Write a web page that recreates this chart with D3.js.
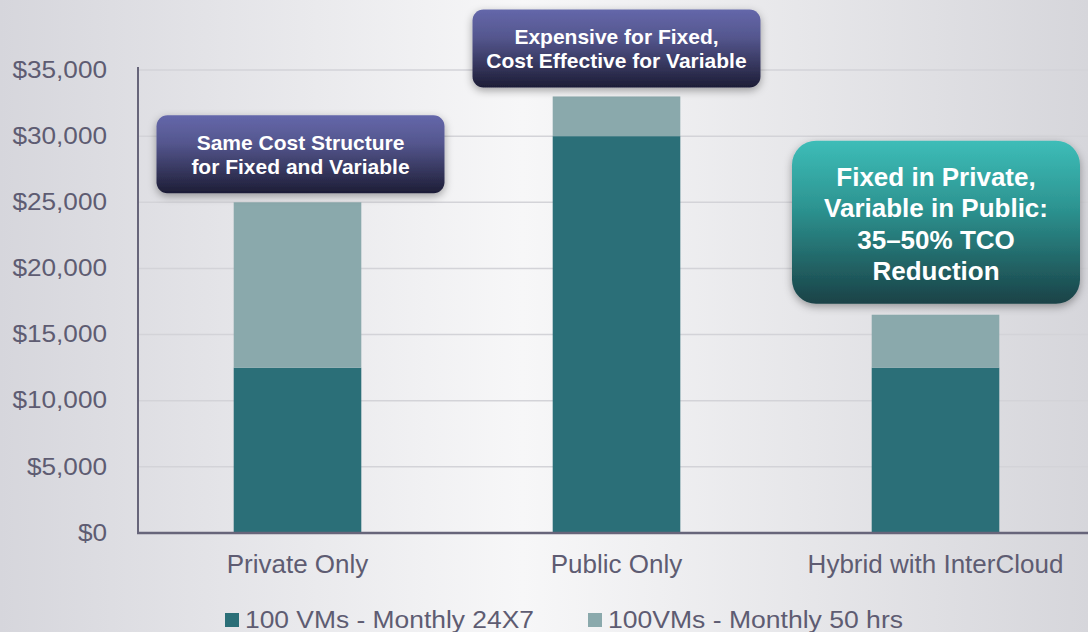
<!DOCTYPE html>
<html><head><meta charset="utf-8">
<script src="https://cdn.jsdelivr.net/npm/d3@7"></script>
<style>html,body{margin:0;padding:0;overflow:hidden;}svg{display:block;font-family:"Liberation Sans",Arial,sans-serif;}</style>
</head><body>
<svg id="c" width="1088" height="632"></svg>
<script>
const categories = ["Private Only", "Public Only", "Hybrid with InterCloud"];
const seriesNames = ["100 VMs - Monthly 24X7", "100VMs - Monthly 50 hrs"];
const fixedValues = [12500, 30000, 12500];
const variableValues = [12500, 3000, 4000];
const yTicks = [0, 5000, 10000, 15000, 20000, 25000, 30000, 35000];
const seriesColors = ["#2b6f78", "#8aa9ac"];
const callouts = [
  {cat: 0, lines: ["Same Cost Structure", "for Fixed and Variable"], style: "blue"},
  {cat: 1, lines: ["Expensive for Fixed,", "Cost Effective for Variable"], style: "blue"},
  {cat: 2, lines: ["Fixed in Private,", "Variable in Public:", "35\u201350% TCO", "Reduction"], style: "teal"}
];

(function(){
const FONT = '"Liberation Sans", Arial, sans-serif';
const TXT = "#5e5c72";
const svg = d3.select("#c");
const W = 1088, H = 632;
const defs = svg.append("defs");
const bg = defs.append("linearGradient").attr("id","bg").attr("x1","0").attr("x2","1").attr("y1","0").attr("y2","0");
bg.append("stop").attr("offset","0").attr("stop-color","#d6d6dc");
bg.append("stop").attr("offset","0.48").attr("stop-color","#f7f7f8");
bg.append("stop").attr("offset","1").attr("stop-color","#d6d6db");
const gb = defs.append("linearGradient").attr("id","gblue").attr("x1","0").attr("x2","0").attr("y1","0").attr("y2","1");
gb.append("stop").attr("offset","0").attr("stop-color","#6467aa");
gb.append("stop").attr("offset","0.35").attr("stop-color","#55578f");
gb.append("stop").attr("offset","1").attr("stop-color","#1d1d36");
const gt = defs.append("linearGradient").attr("id","gteal").attr("x1","0").attr("x2","0").attr("y1","0").attr("y2","1");
gt.append("stop").attr("offset","0").attr("stop-color","#3dbdb8");
gt.append("stop").attr("offset","0.4").attr("stop-color","#2d9592");
gt.append("stop").attr("offset","1").attr("stop-color","#1a4247");
const sh = defs.append("filter").attr("id","sh").attr("x","-20%").attr("y","-20%").attr("width","140%").attr("height","150%");
sh.append("feDropShadow").attr("dx",0).attr("dy",3).attr("stdDeviation",4).attr("flood-color","#000").attr("flood-opacity",0.35);

svg.append("rect").attr("width",W).attr("height",H).attr("fill","url(#bg)");

const pLeft = 138, pRight = 1095, pTop = 70, pBottom = 533;
const x = d3.scaleBand().domain(categories).range([pLeft, pRight]).paddingInner(0.6).paddingOuter(0.3);
const y = d3.scaleLinear().domain([0, 35000]).range([pBottom, pTop]);

svg.append("g").selectAll("line").data(yTicks.filter(d=>d>0)).join("line")
  .attr("x1", pLeft).attr("x2", W).attr("y1", d=>y(d)).attr("y2", d=>y(d))
  .attr("stroke","#d3d3d8").attr("stroke-width",1.5);

const stacked = categories.map((c,i)=>({cat:c, v:[fixedValues[i], variableValues[i]]}));
stacked.forEach(d=>{
  let base = 0;
  d.v.forEach((val,k)=>{
    svg.append("rect").attr("x", x(d.cat)).attr("width", x.bandwidth())
      .attr("y", y(base+val)).attr("height", y(base)-y(base+val))
      .attr("fill", seriesColors[k]);
    base += val;
  });
});

const yAxis = svg.append("g").attr("transform",`translate(${pLeft},0)`)
  .call(d3.axisLeft(y).tickValues(yTicks).tickSize(0).tickPadding(31).tickFormat(d=>"$"+d3.format(",")(d)));
yAxis.attr("font-family", FONT);
yAxis.select(".domain").remove();
yAxis.selectAll("text").attr("fill",TXT).attr("font-size",24).attr("dy","0.3em")
  .each(function(){ const w = this.getComputedTextLength(); d3.select(this).attr("textLength", w*1.09).attr("lengthAdjust","spacingAndGlyphs"); });
svg.append("line").attr("x1",pLeft).attr("x2",pLeft).attr("y1",pTop-3).attr("y2",pBottom+1).attr("stroke","#67657a").attr("stroke-width",2);
svg.append("line").attr("x1",pLeft-1).attr("x2",W).attr("y1",pBottom).attr("y2",pBottom).attr("stroke","#67657a").attr("stroke-width",2.5);

const xAxis = svg.append("g").attr("transform",`translate(0,${pBottom})`)
  .call(d3.axisBottom(x).tickSize(0).tickPadding(22));
xAxis.attr("font-family", FONT);
xAxis.select(".domain").remove();
xAxis.selectAll("text").attr("fill",TXT).attr("font-size",26);

const offs = [{dx:3, dy:-2}, {dx:0, dy:-2}, {dx:0.5, dy:0}];
callouts.forEach((c,ci)=>{
  const cat = categories[c.cat];
  const cx = x(cat) + x.bandwidth()/2;
  const total = fixedValues[c.cat] + variableValues[c.cat];
  const teal = c.style === "teal";
  const w = 288, lh = teal ? 31.5 : 24;
  const h = teal ? 163 : 78;
  const bx = cx + offs[ci].dx - w/2;
  const by = (teal ? y(total) - 174 : y(total) - h - 7) + offs[ci].dy;
  const g = svg.append("g");
  g.append("rect").attr("x",bx).attr("y",by).attr("width",w).attr("height",h)
    .attr("rx", teal ? 24 : 11).attr("fill", teal ? "url(#gteal)" : "url(#gblue)").attr("filter","url(#sh)");
  const n = c.lines.length;
  const cy = by + h/2 + (teal ? 1.5 : 0.5);
  g.selectAll("text").data(c.lines).join("text")
    .attr("x", bx + w/2).attr("y",(d,i)=>cy + (i-(n-1)/2)*lh)
    .attr("dy","0.35em").attr("text-anchor","middle").attr("fill","#fff")
    .attr("font-family", FONT)
    .attr("font-weight","bold").attr("font-size", teal ? 26 : 21).text(d=>d);
});

const legX = [225, 588];
const legW = [289, 295];
seriesNames.forEach((s,i)=>{
  svg.append("rect").attr("x",legX[i]).attr("y",613).attr("width",14).attr("height",14).attr("fill",seriesColors[i]);
  svg.append("text").attr("x",legX[i]+20).attr("y",620).attr("dy","0.36em").attr("font-family", FONT)
    .attr("font-size",23).attr("fill",TXT).attr("textLength", legW[i]).attr("lengthAdjust","spacingAndGlyphs").text(s);
});
})();
</script>
</body></html>
